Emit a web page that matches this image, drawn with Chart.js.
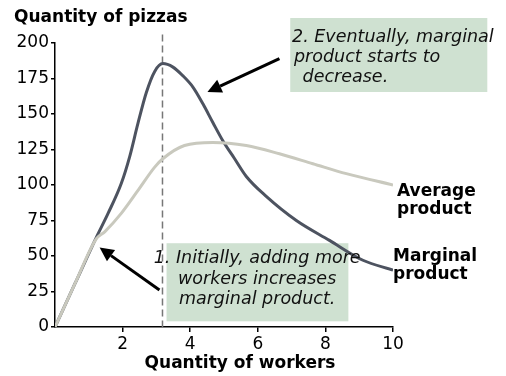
<!DOCTYPE html>
<html>
<head>
<meta charset="utf-8">
<script src="https://cdn.jsdelivr.net/npm/chart.js@4"></script>
<style>
  html, body { margin: 0; padding: 0; background: #fff; }
  #wrap { width: 506px; height: 376px; }
</style>
</head>
<body>
<div id="wrap"><canvas id="pizzaChart"></canvas></div>
<script>
// workers on the x axis, pizzas on the y axis
var marginalWorkers = [0, 0.6, 1.22, 1.57, 1.96, 2.21, 2.45, 2.7, 2.95, 3.19, 3.49, 3.78, 4.08, 4.38, 4.67, 4.97, 5.3, 5.66, 6.25, 7.14, 8.12, 9.11, 10];
var marginalProduct = [0, 31, 63, 80, 101, 120, 143, 165, 180, 185.5, 183, 177, 169, 157, 144, 131, 119, 106, 92, 75, 61, 47, 40];

var averageWorkers = [0, 0.6, 1.22, 1.47, 1.96, 2.45, 2.95, 3.19, 3.83, 4.67, 5.66, 6.64, 7.63, 8.62, 10];
var averageProduct = [0, 31, 62, 67, 80, 96, 112.6, 118.5, 127.8, 130, 127.8, 122, 115, 108, 100];

var peakWorkers = 3.18; // where marginal product tops out

var yAxisTitle = "Quantity of pizzas";
var xAxisTitle = "Quantity of workers";
var note1Lines = ["1. Initially, adding more", "workers increases", "marginal product."];
var note2Lines = ["2. Eventually, marginal", "product starts to", " decrease."];
var averageLabel = ["Average", "product"];
var marginalLabel = ["Marginal", "product"];

function toPoints(xs, ys) {
  return xs.map(function (x, i) { return { x: x, y: ys[i] }; });
}

function drawArrow(ctx, x1, y1, x2, y2) {
  var ang = Math.atan2(y2 - y1, x2 - x1);
  var len = 14, half = 7;
  var bx = x2 - len * Math.cos(ang), by = y2 - len * Math.sin(ang);
  ctx.beginPath();
  ctx.moveTo(x1, y1);
  ctx.lineTo(bx, by);
  ctx.lineWidth = 3;
  ctx.strokeStyle = "#000";
  ctx.stroke();
  ctx.beginPath();
  ctx.moveTo(x2, y2);
  ctx.lineTo(bx + half * Math.sin(ang), by - half * Math.cos(ang));
  ctx.lineTo(bx - half * Math.sin(ang), by + half * Math.cos(ang));
  ctx.closePath();
  ctx.fillStyle = "#000";
  ctx.fill();
}

// boxes, dashed line, arrows and labels
var notesPlugin = {
  id: "notes",
  beforeDatasetsDraw: function (chart) {
    var ctx = chart.ctx, xs = chart.scales.x, ys = chart.scales.y;
    ctx.save();
    ctx.fillStyle = "#cfe1d1";
    // box 1
    var l = xs.getPixelForValue(3.3), r = xs.getPixelForValue(8.68);
    var t = ys.getPixelForValue(59), b = ys.getPixelForValue(4);
    ctx.fillRect(l, t, r - l, b - t);
    // box 2
    l = xs.getPixelForValue(6.96); r = xs.getPixelForValue(12.79);
    t = ys.getPixelForValue(217.6); b = ys.getPixelForValue(165.5);
    ctx.fillRect(l, t, r - l, b - t);
    // dashed line at the peak
    var px = xs.getPixelForValue(peakWorkers);
    ctx.beginPath();
    ctx.setLineDash([7, 4]);
    ctx.moveTo(px, ys.getPixelForValue(206));
    ctx.lineTo(px, ys.getPixelForValue(0));
    ctx.lineWidth = 1.5;
    ctx.strokeStyle = "#777";
    ctx.stroke();
    ctx.restore();
  },
  afterDatasetsDraw: function (chart) {
    var ctx = chart.ctx, xs = chart.scales.x, ys = chart.scales.y;
    ctx.save();
    ctx.fillStyle = "#000";
    ctx.textBaseline = "middle";

    ctx.font = "bold 17px 'DejaVu Sans'";
    ctx.textAlign = "left";
    ctx.fillText(yAxisTitle, 14, 18);
    ctx.textAlign = "center";
    ctx.fillText(xAxisTitle, 240, 364);

    ctx.textAlign = "left";
    ctx.fillText(averageLabel[0], 397, 192);
    ctx.fillText(averageLabel[1], 397, 210);
    ctx.fillText(marginalLabel[0], 393, 257);
    ctx.fillText(marginalLabel[1], 393, 275);

    ctx.font = "italic 17.5px 'DejaVu Sans'";
    ctx.fillStyle = "#111";
    ctx.textAlign = "center";
    var cx = xs.getPixelForValue(5.98);
    note1Lines.forEach(function (line, i) {
      ctx.fillText(line, cx, ys.getPixelForValue(48) + i * 20.5);
    });
    ctx.textAlign = "left";
    var n2x = [292, 294, 297];
    note2Lines.forEach(function (line, i) {
      ctx.fillText(line, n2x[i], 37 + i * 20);
    });

    drawArrow(ctx, xs.getPixelForValue(3.09), ys.getPixelForValue(26),
      xs.getPixelForValue(1.32), ys.getPixelForValue(56));
    drawArrow(ctx, xs.getPixelForValue(6.64), ys.getPixelForValue(189),
      xs.getPixelForValue(4.51), ys.getPixelForValue(165.5));
    ctx.restore();
  }
};

var ctx = document.getElementById("pizzaChart").getContext("2d");

var pizzaChart = new Chart(ctx, {
  type: "line",
  data: {
    datasets: [
      {
        label: "Average product",
        data: toPoints(averageWorkers, averageProduct),
        borderColor: "#c9c9be",
        borderWidth: 3,
        pointRadius: 0,
        cubicInterpolationMode: "monotone",
      },
      {
        label: "Marginal product",
        data: toPoints(marginalWorkers, marginalProduct),
        borderColor: "#4d5360",
        borderWidth: 3,
        pointRadius: 0,
        cubicInterpolationMode: "monotone",
      },
    ],
  },
  options: {
    responsive: true,
    maintainAspectRatio: false,
    animation: false,
    layout: { padding: { top: 43, right: 113, left: 0, bottom: 0 } },
    plugins: {
      legend: { display: false },
      tooltip: { enabled: false },
    },
    scales: {
      x: {
        type: "linear",
        min: 0,
        max: 10,
        afterFit: function (s) { s.height = 49; },
        afterBuildTicks: function (s) {
          s.ticks = [2, 4, 6, 8, 10].map(function (v) { return { value: v }; });
        },
        border: { display: true, color: "#000", width: 1.5 },
        grid: { drawOnChartArea: false, color: "#000", tickLength: 5, lineWidth: 1.5 },
        ticks: { color: "#000", font: { family: "DejaVu Sans", size: 17 }, padding: 2, maxRotation: 0 },
      },
      y: {
        min: 0,
        max: 200,
        afterFit: function (s) { s.width = 55; },
        border: { display: true, color: "#000", width: 1.5 },
        grid: { drawOnChartArea: false, color: "#000", tickLength: 4, lineWidth: 1.5 },
        ticks: { stepSize: 25, color: "#000", font: { family: "DejaVu Sans", size: 17 }, padding: 2 },
      },
    },
  },
  plugins: [notesPlugin],
});
</script>
</body>
</html>
